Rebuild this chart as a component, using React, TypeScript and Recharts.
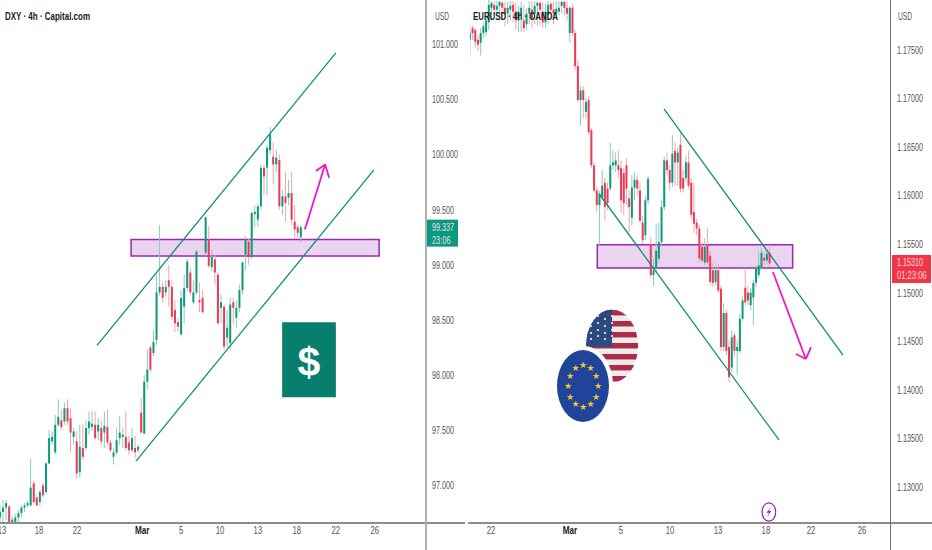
import { Bar, ComposedChart, ReferenceArea, ReferenceDot, ReferenceLine, XAxis, YAxis } from 'recharts';

// DXY 4h candles
const dxyOpen = [96.71,96.76,96.80,96.81,96.67,96.67,96.71,96.75,96.80,96.82,96.82,97.02,96.89,96.85,97.00,96.94,97.20,97.40,97.30,97.55,97.59,97.58,97.70,97.61,97.44,97.40,97.12,97.34,97.34,97.52,97.53,97.55,97.49,97.52,97.48,97.53,97.39,97.26,97.30,97.43,97.44,97.44,97.39,97.32,97.34,97.32,97.66,97.47,97.94,98.25,98.20,98.32,98.75,98.80,98.75,98.86,98.80,98.59,98.48,98.37,98.62,98.79,98.93,98.66,98.75,98.68,98.70,99.11,99.23,98.98,99.05,98.91,98.61,98.62,98.34,98.29,98.66,98.52,98.61,98.77,99.09,99.21,99.07,99.46,99.41,99.53,99.88,99.88,100.04,99.98,99.91,99.95,99.53,99.62,99.61,99.65,99.39,99.34,99.25];
const dxyHigh = [96.82,96.87,96.87,96.82,96.72,96.74,96.78,96.82,96.84,96.86,97.24,97.04,96.91,96.96,97.03,97.21,97.50,97.49,97.64,97.78,97.69,97.75,97.78,97.70,97.52,97.49,97.55,97.56,97.59,97.67,97.67,97.67,97.61,97.59,97.67,97.69,97.41,97.34,97.52,97.63,97.52,97.67,97.45,97.52,97.45,97.37,97.79,98.00,98.23,98.27,98.41,98.91,99.36,98.85,98.86,99.00,98.86,98.68,98.52,98.77,98.91,99.06,98.97,98.86,99.14,98.84,98.77,99.44,99.35,99.14,99.09,98.93,98.73,98.64,98.59,98.70,98.70,98.68,98.82,99.03,99.26,99.24,99.48,99.54,99.56,99.91,99.91,100.09,100.25,100.11,100.04,100.00,99.68,99.84,99.77,99.84,99.54,99.36,99.36];
const dxyLow = [96.66,96.66,96.69,96.66,96.66,96.66,96.67,96.71,96.76,96.80,96.81,96.83,96.81,96.82,96.89,96.92,97.19,97.37,97.28,97.53,97.50,97.55,97.55,97.30,97.37,97.06,97.07,97.23,97.32,97.46,97.50,97.41,97.41,97.37,97.34,97.37,97.30,97.19,97.28,97.37,97.34,97.32,97.28,97.30,97.25,97.30,97.47,97.47,97.87,98.03,98.17,98.27,98.72,98.66,98.71,98.62,98.50,98.39,98.39,98.35,98.47,98.76,98.72,98.64,98.73,98.57,98.56,99.08,98.97,98.94,98.82,98.46,98.47,98.23,98.25,98.23,98.46,98.43,98.57,98.73,98.95,99.00,99.05,99.34,99.34,99.50,99.63,99.63,100.00,99.73,99.84,99.50,99.45,99.39,99.54,99.36,99.24,99.24,99.20];
const dxyClose = [96.76,96.80,96.84,96.67,96.69,96.71,96.75,96.80,96.82,96.84,96.98,96.85,96.82,96.94,96.91,97.20,97.43,97.44,97.55,97.62,97.53,97.70,97.58,97.48,97.49,97.11,97.35,97.26,97.52,97.58,97.56,97.43,97.55,97.40,97.54,97.39,97.32,97.30,97.41,97.48,97.46,97.34,97.32,97.43,97.30,97.35,97.48,97.94,98.05,98.05,98.30,98.75,98.80,98.70,98.80,98.80,98.53,98.47,98.44,98.70,98.79,99.03,98.75,98.75,99.12,98.66,98.57,99.43,98.99,99.07,98.93,98.47,98.66,98.26,98.43,98.64,98.61,98.61,98.77,99.02,99.23,99.07,99.47,99.48,99.53,99.88,99.80,100.06,100.18,99.91,99.97,99.53,99.62,99.56,99.65,99.41,99.32,99.29,99.34];

// EURUSD 4h candles
const eurOpen = [1.1760,1.1772,1.1770,1.1760,1.1757,1.1767,1.1768,1.1778,1.1793,1.1796,1.1791,1.1795,1.1798,1.1793,1.1787,1.1791,1.1796,1.1789,1.1780,1.1786,1.1780,1.1776,1.1787,1.1791,1.1787,1.1795,1.1798,1.1789,1.1778,1.1786,1.1797,1.1791,1.1787,1.1789,1.1795,1.1799,1.1793,1.1767,1.1793,1.1767,1.1733,1.1698,1.1708,1.1686,1.1698,1.1667,1.1631,1.1605,1.1590,1.1598,1.1613,1.1607,1.1607,1.1631,1.1631,1.1631,1.1628,1.1623,1.1631,1.1597,1.1577,1.1608,1.1616,1.1605,1.1572,1.1559,1.1595,1.1549,1.1518,1.1525,1.1535,1.1552,1.1588,1.1636,1.1626,1.1613,1.1646,1.1634,1.1652,1.1618,1.1618,1.1634,1.1613,1.1583,1.1572,1.1566,1.1547,1.1531,1.1549,1.1538,1.1523,1.1511,1.1523,1.1504,1.1444,1.1479,1.1444,1.1423,1.1456,1.1440,1.1440,1.1473,1.1505,1.1500,1.1487,1.1495,1.1510,1.1518,1.1526,1.1536,1.1533,1.1541];
const eurHigh = [1.1778,1.1775,1.1772,1.1765,1.1772,1.1778,1.1786,1.1801,1.1800,1.1800,1.1800,1.1800,1.1800,1.1799,1.1799,1.1800,1.1800,1.1798,1.1795,1.1799,1.1796,1.1793,1.1800,1.1800,1.1800,1.1800,1.1800,1.1799,1.1797,1.1800,1.1800,1.1799,1.1800,1.1800,1.1800,1.1800,1.1799,1.1795,1.1797,1.1770,1.1739,1.1713,1.1712,1.1700,1.1702,1.1669,1.1634,1.1609,1.1605,1.1626,1.1618,1.1613,1.1654,1.1646,1.1644,1.1646,1.1636,1.1628,1.1638,1.1605,1.1621,1.1624,1.1620,1.1614,1.1579,1.1600,1.1620,1.1557,1.1535,1.1571,1.1572,1.1595,1.1640,1.1644,1.1631,1.1662,1.1655,1.1649,1.1664,1.1626,1.1641,1.1646,1.1618,1.1613,1.1576,1.1570,1.1552,1.1556,1.1566,1.1543,1.1531,1.1528,1.1529,1.1507,1.1489,1.1482,1.1451,1.1461,1.1459,1.1451,1.1478,1.1496,1.1525,1.1507,1.1505,1.1513,1.1528,1.1543,1.1546,1.1543,1.1545,1.1549];
const eurLow = [1.1742,1.1760,1.1752,1.1749,1.1744,1.1762,1.1764,1.1770,1.1780,1.1786,1.1787,1.1780,1.1782,1.1774,1.1776,1.1780,1.1778,1.1770,1.1768,1.1768,1.1768,1.1770,1.1776,1.1772,1.1776,1.1775,1.1775,1.1772,1.1772,1.1776,1.1782,1.1776,1.1782,1.1785,1.1787,1.1785,1.1780,1.1757,1.1764,1.1729,1.1696,1.1672,1.1679,1.1679,1.1662,1.1628,1.1603,1.1583,1.1549,1.1596,1.1574,1.1585,1.1605,1.1626,1.1624,1.1618,1.1582,1.1580,1.1590,1.1562,1.1569,1.1595,1.1600,1.1572,1.1550,1.1554,1.1591,1.1515,1.1507,1.1521,1.1531,1.1549,1.1585,1.1621,1.1605,1.1609,1.1610,1.1610,1.1603,1.1603,1.1614,1.1607,1.1576,1.1561,1.1559,1.1531,1.1531,1.1528,1.1529,1.1507,1.1506,1.1507,1.1500,1.1440,1.1440,1.1435,1.1408,1.1418,1.1435,1.1415,1.1438,1.1471,1.1487,1.1487,1.1482,1.1466,1.1506,1.1515,1.1523,1.1528,1.1529,1.1527];
const eurClose = [1.1767,1.1767,1.1758,1.1755,1.1767,1.1774,1.1780,1.1796,1.1798,1.1791,1.1795,1.1799,1.1793,1.1787,1.1793,1.1795,1.1789,1.1780,1.1789,1.1793,1.1772,1.1787,1.1793,1.1782,1.1795,1.1798,1.1791,1.1778,1.1789,1.1796,1.1791,1.1787,1.1792,1.1793,1.1799,1.1793,1.1787,1.1793,1.1767,1.1733,1.1698,1.1708,1.1698,1.1696,1.1665,1.1631,1.1605,1.1590,1.1602,1.1610,1.1588,1.1592,1.1631,1.1634,1.1636,1.1626,1.1595,1.1592,1.1607,1.1588,1.1608,1.1616,1.1607,1.1574,1.1554,1.1595,1.1617,1.1518,1.1523,1.1543,1.1552,1.1588,1.1636,1.1626,1.1613,1.1643,1.1634,1.1644,1.1607,1.1607,1.1634,1.1610,1.1580,1.1571,1.1566,1.1535,1.1533,1.1547,1.1531,1.1511,1.1510,1.1523,1.1502,1.1444,1.1479,1.1440,1.1413,1.1454,1.1440,1.1444,1.1473,1.1492,1.1490,1.1492,1.1500,1.1510,1.1525,1.1528,1.1541,1.1533,1.1540,1.1530];

const dxyTicks = [97, 97.5, 98, 98.5, 99, 99.337, 99.5, 100, 100.5, 101];
const eurTicks = [1.13, 1.135, 1.14, 1.145, 1.15, 1.1531, 1.155, 1.16, 1.165, 1.17, 1.175];
const dxyDates = ['13', '18', '22', 'Mar', '5', '10', '13', '18', '22', '26'];
const dxyDatePos = [0.65, 12.7, 25.1, 46.3, 59, 71.7, 84, 96.7, 109.4, 122.1];
const eurDates = ['22', 'Mar', '5', '10', '13', '18', '22', '26'];
const eurDatePos = [7.8, 37, 55.9, 74.1, 91.9, 109.6, 126.3, 145.2];

const GREEN = '#0c9a7c';
const RED = '#ea3a55';
const TREND = '#0f8f75';
const PINK = '#ee18c4';
const BOX = '#9c27b0';
const FONT = '"Liberation Sans Narrow", "Liberation Sans", Arial, sans-serif';

const toRows = (o: number[], h: number[], l: number[], c: number[]) =>
  o.map((open, i) => ({ i, open, high: h[i], low: l[i], close: c[i] }));

const Candle = (props: any) => {
  const { x, y, width, height, payload } = props;
  const mid = x + width / 2;
  const up = payload.close >= payload.open;
  const perUnit = height / (payload.high - payload.low);
  const top = y + (payload.high - Math.max(payload.open, payload.close)) * perUnit;
  const size = Math.abs(payload.close - payload.open) * perUnit;
  return (
    <g>
      <line x1={mid} x2={mid} y1={y} y2={y + height} stroke={up ? '#86cdbb' : '#f5a3b0'} strokeWidth={1} />
      <rect x={mid - 1} y={top} width={2} height={Math.max(size, 1.5)} fill={up ? GREEN : RED} />
    </g>
  );
};

const priceTick = (digits: number, tag: number, tagFill: string, tagW: number, time: string, tagTop: number, tagH: number) => (props: any) => {
  const { x, y, payload } = props;
  const label = Number(payload.value).toFixed(digits);
  const w = (label.length - 1) * 4 + 2;
  if (payload.value === tag) {
    return (
      <g fontFamily={FONT} fontSize={10}>
        <rect x={x + 1} y={y - tagTop} width={tagW} height={tagH} fill={tagFill} />
        <text x={x + 6} y={y + 3.5} fill="#f4dfe0" textLength={w} lengthAdjust="spacingAndGlyphs">{label}</text>
        <text x={x + 6} y={y + 16.5} fill="#f4dfe0" textLength={time.length * 3.7} lengthAdjust="spacingAndGlyphs">{time}</text>
      </g>
    );
  }
  return (
    <text x={x + 6} y={y + 4} fontFamily={FONT} fontSize={10.5} fill="#555" textLength={w} lengthAdjust="spacingAndGlyphs">
      {label}
    </text>
  );
};

const dateTick = (labels: string[], positions: number[]) => (props: any) => {
  const { x, y, payload } = props;
  const label = labels[positions.indexOf(payload.value)] ?? '';
  const bold = label === 'Mar';
  const w = bold ? 14.5 : label.length * 4.3;
  return (
    <text x={x} y={y + 11} textAnchor="middle" fontFamily={FONT} fontSize={10.5} fontWeight={bold ? 700 : 400} fill={bold ? '#222' : '#555'} textLength={w} lengthAdjust="spacingAndGlyphs">
      {label}
    </text>
  );
};

const UsFlag = ({ cx, cy }: any) => {
  const stripes = [-36, -25, -14, -3, 8, 19, 30];
  const dots = [-21, -14, -7, 0];
  return (
    <g>
      <clipPath id="usClip"><ellipse cx={cx} cy={cy} rx={26} ry={36.5} /></clipPath>
      <g clipPath="url(#usClip)">
        <rect x={cx - 27} y={cy - 37} width={54} height={74} fill="#f1ecec" />
        {stripes.map((s) => <rect key={s} x={cx - 27} y={cy + s} width={54} height={5.5} fill="#ab2d4a" />)}
        <rect x={cx - 27} y={cy - 37} width={27} height={38} fill="#2c4a80" />
        {dots.map((a) => [-22, -15, -8, -2].map((b) => (
          <circle key={`${a}${b}`} cx={cx + a} cy={cy + b - 8 + (a % 2 ? 3 : 0)} r={1.1} fill="#f4f4f4" />
        )))}
      </g>
    </g>
  );
};

const EuFlag = ({ cx, cy }: any) => {
  const stars = Array.from({ length: 12 }, (_, n) => (n * Math.PI) / 6);
  return (
    <g>
      <ellipse cx={cx + 1} cy={cy - 1} rx={29} ry={39} fill="#fff" />
      <ellipse cx={cx} cy={cy} rx={26} ry={36} fill="#1f4499" />
      {stars.map((a) => (
        <text key={a} x={cx + Math.sin(a) * 15} y={cy - Math.cos(a) * 21 + 3} textAnchor="middle" fontSize={9} fill="#f2c52e" fontFamily='"DejaVu Sans", sans-serif'>★</text>
      ))}
    </g>
  );
};

const Bolt = ({ cx, cy }: any) => (
  <g>
    <ellipse cx={cx} cy={cy} rx={6.8} ry={9.2} fill="#fff" stroke="#8e24aa" strokeWidth={1.2} />
    <path d={`M${cx + 2} ${cy - 5} L${cx - 2.5} ${cy + 0.8} L${cx + 0.2} ${cy + 0.8} L${cx - 2} ${cy + 5} L${cx + 2.5} ${cy - 1} L${cx - 0.2} ${cy - 1} Z`} fill="#8e24aa" />
  </g>
);

const Dollar = ({ cx, cy }: any) => (
  <text x={cx} y={cy + 15} textAnchor="middle" fontFamily='"Liberation Sans", Arial, sans-serif' fontWeight={700} fontSize={41} fill="#fff">$</text>
);

const seg = (x1: number, y1: number, x2: number, y2: number) => [{ x: x1, y: y1 }, { x: x2, y: y2 }] as any;

const dxyRows = toRows(dxyOpen, dxyHigh, dxyLow, dxyClose);
const eurRows = toRows(eurOpen, eurHigh, eurLow, eurClose);

function DxyChart() {
  return (
    <ComposedChart width={470} height={550} data={dxyRows} margin={{ top: 0, right: 0, bottom: 0, left: 0 }} style={{ position: 'absolute', left: 0, top: 0 }}>
      <XAxis dataKey="i" type="number" domain={[0, 138.76]} ticks={dxyDatePos} interval={0} height={27} axisLine={false} tickLine={false} tickSize={0} tickMargin={0} tick={dateTick(dxyDates, dxyDatePos)} />
      <YAxis orientation="right" width={44} domain={[96.66, 101.4]} ticks={dxyTicks} interval={0} axisLine={false} tickLine={false} tickSize={0} tickMargin={0} tick={priceTick(3, 99.337, '#089981', 31, '23:06', 8, 27)} />
      <ReferenceArea x1={42.7} x2={123.5} y1={99.08} y2={99.23} fill={BOX} fillOpacity={0.2} stroke={BOX} strokeWidth={1.5} />
      <ReferenceArea x1={91.9} x2={109.4} y1={97.8} y2={98.48} fill="#087f6c" fillOpacity={1} />
      <Bar dataKey={(d: any) => [d.low, d.high]} barSize={3} shape={Candle} isAnimationActive={false} />
      <ReferenceLine segment={seg(31.6, 98.27, 109.4, 100.92)} stroke={TREND} strokeWidth={1.3} />
      <ReferenceLine segment={seg(44.3, 97.22, 121.8, 99.86)} stroke={TREND} strokeWidth={1.3} />
      <ReferenceLine segment={seg(99.3, 99.32, 105.9, 99.91)} stroke={PINK} strokeWidth={1.8} />
      <ReferenceLine segment={seg(102.9, 99.85, 105.9, 99.91)} stroke={PINK} strokeWidth={1.8} />
      <ReferenceLine segment={seg(107.2, 99.79, 105.9, 99.91)} stroke={PINK} strokeWidth={1.8} />
      <ReferenceDot x={100.6} y={98.13} r={1} shape={Dollar} />
    </ComposedChart>
  );
}

function EurChart() {
  return (
    <ComposedChart width={462} height={550} data={eurRows} margin={{ top: 0, right: 0, bottom: 0, left: 0 }} style={{ position: 'absolute', left: 470, top: 0 }}>
      <XAxis dataKey="i" type="number" domain={[0, 155.93]} ticks={eurDatePos} interval={0} height={27} axisLine={false} tickLine={false} tickSize={0} tickMargin={0} tick={dateTick(eurDates, eurDatePos)} />
      <YAxis orientation="right" width={41} domain={[1.1263, 1.1801]} ticks={eurTicks} interval={0} axisLine={false} tickLine={false} tickSize={0} tickMargin={0} tick={priceTick(5, 1.1531, '#f23645', 39, '01:23:06', 7.5, 28)} />
      <ReferenceArea x1={47.15} x2={119.5} y1={1.15253} y2={1.15493} fill={BOX} fillOpacity={0.2} stroke={BOX} strokeWidth={1.5} />
      <Bar dataKey={(d: any) => [d.low, d.high]} barSize={3} shape={Candle} isAnimationActive={false} />
      <ReferenceLine segment={seg(71.85, 1.16889, 138.15, 1.14358)} stroke={TREND} strokeWidth={1.3} />
      <ReferenceLine segment={seg(48.15, 1.16004, 114.44, 1.13484)} stroke={TREND} strokeWidth={1.3} />
      <ReferenceLine segment={seg(112.2, 1.15212, 124.4, 1.14317)} stroke={PINK} strokeWidth={1.8} />
      <ReferenceLine segment={seg(120.7, 1.14368, 124.4, 1.14317)} stroke={PINK} strokeWidth={1.8} />
      <ReferenceLine segment={seg(126.3, 1.1444, 124.4, 1.14317)} stroke={PINK} strokeWidth={1.8} />
      <ReferenceDot x={52.6} y={1.14451} r={1} shape={UsFlag} />
      <ReferenceDot x={41.85} y={1.14039} r={1} shape={EuFlag} />
      <ReferenceDot x={110.7} y={1.12743} r={1} shape={Bolt} />
    </ComposedChart>
  );
}

const line = (left: number, top: number, width: number, height: number, background: string) => (
  <div style={{ position: 'absolute', left, top, width, height, background }} />
);

export default function App() {
  return (
    <div style={{ position: 'absolute', left: 0, top: 0, width: 932, height: 550, background: '#fff', overflow: 'hidden' }}>
      <DxyChart />
      <EurChart />
      {line(0, 522, 465, 2, '#8d8d8d')}
      {line(468, 522, 464, 2, '#8d8d8d')}
      {line(425, 0, 2, 550, '#b0b0b0')}
      {line(890, 0, 1, 550, '#707070')}
      <svg width={932} height={550} style={{ position: 'absolute', left: 0, top: 0, pointerEvents: 'none' }} fontFamily={FONT}>
        <text x={5} y={20} fontSize={11.5} fontWeight={700} fill="#1b1b1b" textLength={85} lengthAdjust="spacingAndGlyphs">DXY · 4h · Capital.com</text>
        <text x={473} y={20} fontSize={11.5} fontWeight={700} fill="#1b1b1b" textLength={85} lengthAdjust="spacingAndGlyphs">EURUSD · 4h · OANDA</text>
        <text x={435} y={20} fontSize={10.5} fill="#555" textLength={14} lengthAdjust="spacingAndGlyphs">USD</text>
        <text x={898} y={20} fontSize={10.5} fill="#555" textLength={14} lengthAdjust="spacingAndGlyphs">USD</text>
      </svg>
    </div>
  );
}
